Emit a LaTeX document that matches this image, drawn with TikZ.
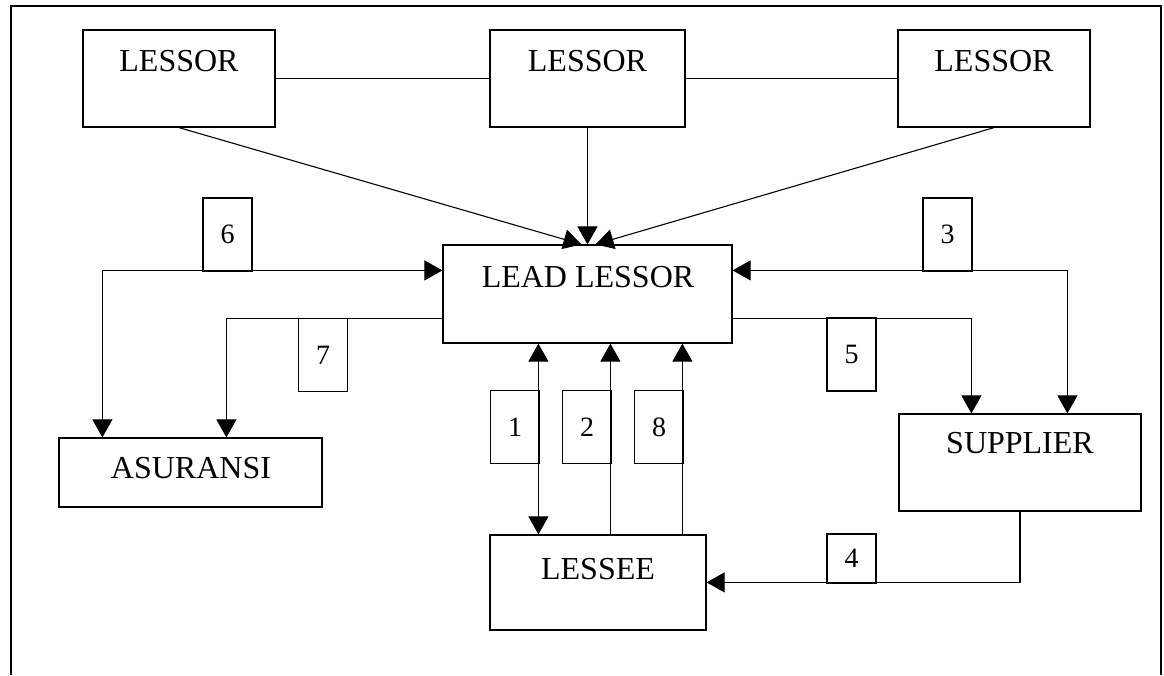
\documentclass[tikz,border=0pt]{standalone}
\usepackage{fontspec}
\setmainfont{Liberation Serif}
\usetikzlibrary{arrows.meta}
\begin{document}
\begin{tikzpicture}[
        x=1pt, y=-1pt,
        every node/.style={font=\fontsize{32}{38}\selectfont},
        box/.style={draw, line width=1.2pt, inner sep=0pt},
        numbox/.style={draw, line width=1.2pt, inner sep=0pt, minimum width=49pt, minimum height=73pt, font=\fontsize{28}{34}\selectfont},
        link/.style={draw, line width=1.1pt},
        tip/.style={line width=1.1pt, {Triangle[width=20pt,length=18pt]}-},
        tipboth/.style={line width=1.1pt, {Triangle[width=20pt,length=18pt]}-{Triangle[width=20pt,length=18pt]}},
        tipend/.style={line width=1.1pt, -{Triangle[width=20pt,length=18pt]}},
    ]
    \useasboundingbox (0,0) rectangle (1164,675);
    \draw[line width=2pt] (11,675) -- (11,6) -- (1161,6) -- (1161,675);
    % boxes
    \node[box, minimum width=192pt, minimum height=97pt] (lessorA) at (179,78.5) {};
    \node[box, minimum width=195pt, minimum height=97pt] (lessorB) at (587.5,78.5) {};
    \node[box, minimum width=192pt, minimum height=97pt] (lessorC) at (994,78.5) {};
    \node[box, minimum width=289pt, minimum height=98pt] (lead) at (587.5,294) {};
    \node[box, minimum width=263pt, minimum height=69pt] (asur) at (190.5,472.5) {};
    \node[box, minimum width=242pt, minimum height=97pt] (supp) at (1020,462.5) {};
    \node[box, minimum width=216pt, minimum height=95pt] (lessee) at (598,582.5) {};
    % texts
    \node (tLessorA) at (179,61) {LESSOR};
    \node (tLessorB) at (587.5,61) {LESSOR};
    \node (tLessorC) at (994,61) {LESSOR};
    \node (tLead) at (588,277) {LEAD LESSOR};
    \node (tAsur) at (191,468) {ASURANSI};
    \node (tSupp) at (1020,443) {SUPPLIER};
    \node (tLessee) at (598,569) {LESSEE};
    % lessors
    \draw[link] (lessorA.east) -- (lessorB.west);
    \draw[link] (lessorB.east) -- (lessorC.west);
    \draw[tipend] (lessorA.south) -- ([xshift=-6pt]lead.north);
    \draw[tipend] (lessorB.south) -- (lead.north);
    \draw[tipend] (lessorC.south) -- ([xshift=8pt]lead.north);
    % number boxes
    \node[numbox] (n6) at (227.5,234.5) {6};
    \node[numbox] (n3) at (947.5,234.5) {3};
    \node[numbox] (n7) at (323,355) {7};
    \node[numbox] (n5) at (851.5,354.5) {5};
    \node[numbox] (n1) at (515,427) {1};
    \node[numbox] (n2) at (587,427) {2};
    \node[numbox] (n8) at (659,427) {8};
    \node[numbox, minimum height=49pt] (n4) at (851.5,558.5) {4};
    % connectors
    \draw[tipboth] ([yshift=-26pt]lead.north west) -| ([xshift=44pt]asur.north west);
    \draw[tipend] ([yshift=-74pt]lead.north west) -| ([xshift=168pt]asur.north west);
    \draw[tipboth] ([yshift=-26pt]lead.north east) -| ([xshift=169pt]supp.north west);
    \draw[tipend] ([yshift=-74pt]lead.north east) -| ([xshift=73pt]supp.north west);
    \draw[tipboth] ([xshift=96pt]lead.south west) -- ([xshift=49pt]lessee.north west);
    \draw[tip] ([xshift=168pt]lead.south west) -- ([xshift=121pt]lessee.north west);
    \draw[tip] ([xshift=240pt]lead.south west) -- ([xshift=193pt]lessee.north west);
    \draw[tipend] (supp.south) |- ([yshift=-48pt]lessee.north east);
\end{tikzpicture}
\end{document}
